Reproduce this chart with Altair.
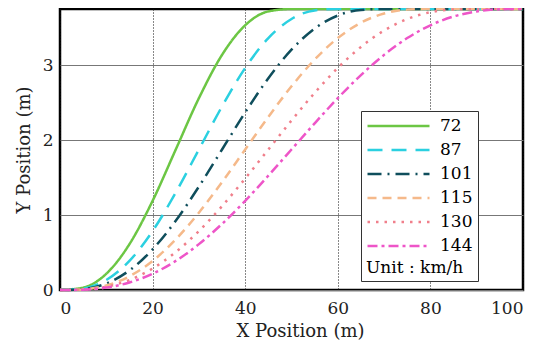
import altair as alt
import pandas as pd

x_pos = [0, 5, 10, 15, 20, 25, 30, 35, 40, 45, 50, 55, 60, 65, 70, 75, 80, 85, 90, 95, 100]
speeds = ["72", "87", "101", "115", "130", "144"]

y_72 = [0.0, 0.032, 0.217, 0.612, 1.190, 1.875, 2.560, 3.138, 3.533, 3.718, 3.750,
        3.750, 3.750, 3.750, 3.750, 3.750, 3.750, 3.750, 3.750, 3.750, 3.750]
y_87 = [0.0, 0.019, 0.133, 0.388, 0.787, 1.300, 1.875, 2.450, 2.963, 3.362, 3.617,
        3.731, 3.750, 3.750, 3.750, 3.750, 3.750, 3.750, 3.750, 3.750, 3.750]
y_101 = [0.0, 0.012, 0.087, 0.261, 0.543, 0.924, 1.380, 1.875, 2.370, 2.826, 3.207,
         3.489, 3.663, 3.738, 3.750, 3.750, 3.750, 3.750, 3.750, 3.750, 3.750]
y_115 = [0.0, 0.008, 0.060, 0.183, 0.388, 0.675, 1.032, 1.440, 1.875, 2.310, 2.718,
         3.075, 3.362, 3.567, 3.690, 3.742, 3.750, 3.750, 3.750, 3.750, 3.750]
y_130 = [0.0, 0.006, 0.043, 0.133, 0.287, 0.506, 0.787, 1.119, 1.488, 1.875, 2.262,
         2.631, 2.963, 3.244, 3.463, 3.617, 3.707, 3.744, 3.750, 3.750, 3.750]
y_144 = [0.0, 0.004, 0.032, 0.100, 0.217, 0.388, 0.612, 0.882, 1.190, 1.526, 1.875,
         2.224, 2.560, 2.868, 3.138, 3.362, 3.533, 3.650, 3.718, 3.746, 3.750]

series = [y_72, y_87, y_101, y_115, y_130, y_144]
colors = ["#6CC644", "#2BD0E0", "#0F4E5C", "#F5B98A", "#F07F8B", "#EE55C8"]
dashes = [[1, 0], [15, 9], [14, 6, 2, 6], [9, 6], [2.5, 6], [10, 4, 3, 4]]

rows = []
for sp, ys in zip(speeds, series):
    for i, (xv, yv) in enumerate(zip(x_pos, ys)):
        rows.append({"speed": sp, "x": xv, "y": yv, "idx": i})
df = pd.DataFrame(rows)

FONT = "DejaVu Serif"

legend = alt.Legend(
    title="Unit : km/h",
    orient="none",
    legendX=301,
    legendY=102,
    titleOrient="bottom",
    titleFont=FONT,
    titleFontSize=17,
    titleFontWeight="normal",
    titleColor="black",
    titlePadding=4,
    labelFont=FONT,
    labelFontSize=17,
    labelColor="black",
    labelOffset=9,
    symbolType="stroke",
    symbolSize=3844,
    symbolStrokeWidth=2.5,
    clipHeight=20,
    rowPadding=4,
    padding=5,
    strokeColor="#333333",
    fillColor="white",
)

chart = alt.Chart(df).mark_line(strokeWidth=2.5, interpolate="monotone").encode(
    x=alt.X("x:Q",
            scale=alt.Scale(domain=[0, 100], nice=False),
            axis=alt.Axis(title="X Position (m)", values=[0, 20, 40, 60, 80, 100],
                          grid=True, gridColor="#111111", gridDash=[1, 2], gridWidth=1,
                          titleX=240)),
    y=alt.Y("y:Q",
            scale=alt.Scale(domain=[0, 3.75], nice=False),
            axis=alt.Axis(title="Y Position (m)", values=[0, 1, 2, 3],
                          grid=True, gridColor="#777777", gridWidth=1)),
    color=alt.Color("speed:N", sort=speeds,
                    scale=alt.Scale(domain=speeds, range=colors), legend=legend),
    strokeDash=alt.StrokeDash("speed:N", sort=speeds,
                              scale=alt.Scale(domain=speeds, range=dashes), legend=legend),
    order=alt.Order("idx:Q"),
).properties(
    width=463,
    height=281,
    autosize=alt.AutoSizeParams(type="none"),
    padding={"left": 52, "top": 1, "right": 19, "bottom": 56},
).configure_view(
    stroke="black", strokeWidth=2.5
).configure_axis(
    domain=False,
    ticks=False,
    labelFont=FONT,
    labelFontSize=17,
    labelColor="#222222",
    titleFont=FONT,
    titleFontSize=18,
    titleFontWeight="normal",
    titleColor="#222222",
    labelPadding=7,
).configure_axisX(
    labelPadding=10,
    titlePadding=6,
).configure_axisY(
    titlePadding=9,
)

chart.save("out.html", embed_options={"renderer": "svg", "actions": False})
